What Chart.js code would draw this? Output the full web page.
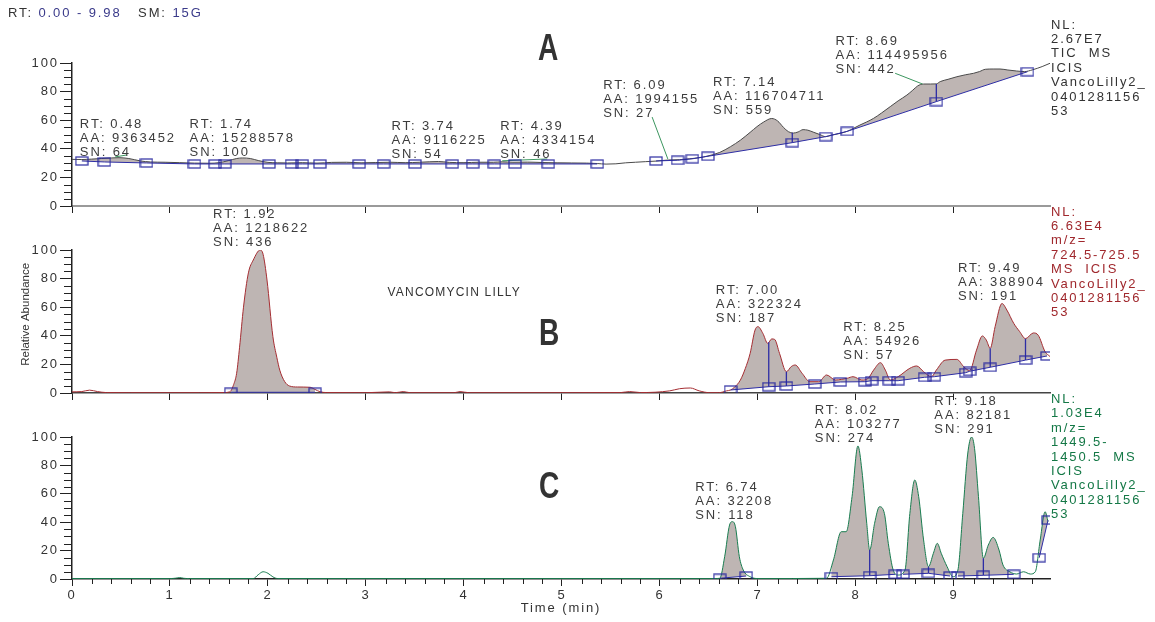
<!DOCTYPE html>
<html>
<head>
<meta charset="utf-8">
<script src="https://cdn.jsdelivr.net/npm/chart.js@4"></script>
<style>
  body { margin: 0; background: #fff; }
  #wrap { position: relative; width: 1155px; height: 622px; }
  #wrap canvas { position: absolute; left: 0; top: 0; }
</style>
</head>
<body>
<div id="wrap">
  <canvas id="chartA" width="1155" height="622"></canvas>
  <canvas id="chartB" width="1155" height="622"></canvas>
  <canvas id="chartC" width="1155" height="622"></canvas>
</div>
<script>
// time axis and abundance axis
const xTicks = [0, 1, 2, 3, 4, 5, 6, 7, 8, 9];
const yTicks = [0, 20, 40, 60, 80, 100];
const timeMax = 9.98;

// A: TIC trace [time, relative abundance]
const traceA = [
  [0, 32.6], [0.1, 32.5], [0.2, 32.8], [0.3, 33.2], [0.4, 33.6], [0.48, 33.8], [0.58, 33.2], [0.7, 31.5],
  [0.8, 30.8], [0.95, 30.6], [1.1, 30.3], [1.25, 30.0], [1.4, 29.9], [1.5, 30.3], [1.6, 31.8], [1.68, 33.2],
  [1.74, 33.6], [1.82, 33.2], [1.9, 31.8], [2.0, 30.5], [2.1, 30.2], [2.2, 30.1], [2.35, 30.3], [2.5, 30.0],
  [2.65, 30.5], [2.8, 30.6], [2.95, 30.2], [3.1, 30.4], [3.25, 30.6], [3.4, 30.3], [3.55, 30.6], [3.74, 31.1],
  [3.85, 30.5], [4.0, 30.3], [4.15, 30.6], [4.3, 30.6], [4.39, 30.9], [4.5, 30.6], [4.65, 30.7], [4.8, 30.4],
  [4.95, 30.2], [5.1, 30.1], [5.25, 30.0], [5.36, 29.7], [5.45, 29.3], [5.55, 29.5], [5.65, 30.2], [5.75, 30.6],
  [5.85, 31.0], [5.96, 31.4], [6.09, 32.2], [6.2, 32.4], [6.3, 33.0], [6.4, 33.8], [6.49, 35.0], [6.61, 37.5],
  [6.72, 41.5], [6.82, 46], [6.92, 51.5], [6.99, 55.5], [7.06, 58.8], [7.14, 61.2], [7.2, 59.5], [7.26, 55],
  [7.31, 52], [7.36, 51], [7.41, 51.8], [7.46, 53.4], [7.51, 53], [7.57, 51.5], [7.63, 50], [7.69, 48.5],
  [7.75, 49.5], [7.82, 50.5], [7.91, 52.2], [7.98, 54.5], [8.04, 56.6], [8.11, 58.8], [8.18, 61.3], [8.26, 65],
  [8.35, 69.5], [8.43, 73.5], [8.52, 77.6], [8.58, 81], [8.63, 84], [8.69, 85.3], [8.76, 85.3], [8.82, 85.4],
  [8.86, 87], [8.94, 88.6], [9.03, 90.4], [9.12, 91.8], [9.2, 92.8], [9.26, 94], [9.32, 95.6], [9.4, 95.8],
  [9.47, 95.8], [9.55, 95.1], [9.64, 94.4], [9.72, 94], [9.8, 95.2], [9.9, 97.5], [9.98, 99.8]
];
const baseA = [
  [0.10, 31.5], [0.33, 30.8], [0.76, 30.1], [1.25, 29.4], [1.46, 29.4], [1.56, 29.4], [2.01, 29.4],
  [2.24, 29.4], [2.35, 29.4], [2.53, 29.4], [2.93, 29.4], [3.18, 29.4], [3.50, 29.4], [3.88, 29.4],
  [4.09, 29.4], [4.31, 29.4], [4.52, 29.4], [4.86, 29.4], [5.36, 29.4], null,
  [5.96, 31.5], [6.18, 32.0], [6.33, 33.0], [6.49, 34.8], [7.35, 44.3], [7.69, 48.5], [7.91, 52.2],
  [8.82, 73.0], [9.75, 93.9]
];
const dropsA = [[7.35, 51.2], [7.35, 44.3], null, [8.82, 85.4], [8.82, 73.0]];
const leadersA = [
  [0.44, 34.3], [0.56, 35.7], null, [4.39, 31.6], [4.85, 32.9], null,
  [5.92, 62.2], [6.08, 32.9], null, [8.40, 92.8], [8.68, 85.3]
];
const peaksA = [
  { t: 0.08, v: 57.3, lines: ['RT: 0.48', 'AA: 9363452', 'SN: 64'] },
  { t: 1.20, v: 57.3, lines: ['RT: 1.74', 'AA: 15288578', 'SN: 100'] },
  { t: 3.26, v: 55.9, lines: ['RT: 3.74', 'AA: 9116225', 'SN: 54'] },
  { t: 4.37, v: 55.9, lines: ['RT: 4.39', 'AA: 4334154', 'SN: 46'] },
  { t: 5.42, v: 84.6, lines: ['RT: 6.09', 'AA: 1994155', 'SN: 27'] },
  { t: 6.54, v: 86.2, lines: ['RT: 7.14', 'AA: 116704711', 'SN: 559'] },
  { t: 7.79, v: 115.4, lines: ['RT: 8.69', 'AA: 114495956', 'SN: 442'] }
];
const sideA = ['NL:', '2.67E7', 'TIC  MS', 'ICIS', 'VancoLilly2_', '0401281156', '53'];

// B: m/z 724.5-725.5
const traceB = [
  [0, 0.8], [0.1, 1.0], [0.18, 2.0], [0.26, 1.0], [0.35, 0.3], [0.6, 0.2], [1.0, 0.2], [1.3, 0.2],
  [1.55, 0.3], [1.61, 0.8], [1.65, 6], [1.68, 13.8], [1.71, 32], [1.75, 60], [1.8, 84], [1.85, 93],
  [1.92, 100], [1.95, 97], [1.99, 79], [2.05, 39.4], [2.09, 25], [2.12, 16], [2.17, 8], [2.22, 4.9],
  [2.3, 4.2], [2.43, 4.0], [2.48, 2.5], [2.53, 0.9], [2.6, 0.3], [3.0, 0.2], [3.24, 0.8], [3.3, 0.2],
  [3.38, 1.0], [3.45, 0.2], [3.9, 0.2], [3.96, 1.0], [4.05, 0.2], [5.0, 0.2], [5.6, 0.3], [5.69, 1.0],
  [5.8, 0.3], [6.1, 1.5], [6.2, 3.0], [6.31, 3.5], [6.4, 1.5], [6.51, 0.2], [6.6, 0.2], [6.68, 1.5],
  [6.72, 2.1], [6.76, 4], [6.82, 9], [6.87, 17], [6.92, 27.7], [6.97, 44], [7.0, 46.4], [7.05, 41.7],
  [7.1, 34.7], [7.14, 37.8], [7.17, 37.5], [7.22, 27.7], [7.29, 14.9], [7.34, 18.5], [7.38, 19.6],
  [7.45, 13.8], [7.53, 7.9], [7.62, 7.9], [7.7, 12.6], [7.79, 9.1], [7.91, 10.3], [7.97, 11.4],
  [8.06, 9.1], [8.12, 10], [8.18, 16], [8.25, 21.2], [8.3, 16], [8.35, 9.1], [8.43, 11.4], [8.55, 17.3],
  [8.62, 18.9], [8.69, 14.9], [8.77, 11.4], [8.82, 16], [8.91, 23], [9.03, 23.5], [9.1, 18.4],
  [9.16, 15.6], [9.23, 30], [9.29, 39.9], [9.33, 37], [9.37, 31.3], [9.42, 46.4], [9.49, 62.6],
  [9.54, 58], [9.61, 48.7], [9.67, 43], [9.73, 38], [9.81, 42], [9.86, 40.4], [9.93, 28.9], [9.98, 25.5]
];
const baseB = [
  [1.62, 0.5], [2.48, 0.5], null,
  [6.72, 2.1], [7.11, 4.4], [7.29, 4.9], [7.58, 6.3], [7.84, 7.7], [8.09, 7.9], [8.16, 8.6], [8.34, 8.6],
  [8.43, 8.6], [8.70, 11.0], [8.80, 11.4], [9.12, 14.2], [9.16, 15.2], [9.37, 18.0], [9.73, 23.0], [9.95, 25.9]
];
const dropsB = [
  [7.11, 35.5], [7.11, 4.4], null, [7.29, 14.9], [7.29, 4.9], null,
  [9.37, 31.3], [9.37, 18.0], null, [9.73, 38], [9.73, 23.0]
];
const peaksB = [
  { t: 1.44, v: 125.2, lines: ['RT: 1.92', 'AA: 1218622', 'SN: 436'] },
  { t: 6.57, v: 71.5, lines: ['RT: 7.00', 'AA: 322324', 'SN: 187'] },
  { t: 7.87, v: 45.9, lines: ['RT: 8.25', 'AA: 54926', 'SN: 57'] },
  { t: 9.04, v: 87.2, lines: ['RT: 9.49', 'AA: 388904', 'SN: 191'] }
];
const sideB = ['NL:', '6.63E4', 'm/z=', '724.5-725.5', 'MS  ICIS', 'VancoLilly2_', '0401281156', '53'];

// C: m/z 1449.5-1450.5
const traceC = [
  [0, 0.3], [1.0, 0.3], [1.06, 0.6], [1.1, 1.0], [1.14, 0.5], [1.2, 0.3], [1.85, 0.3], [1.9, 3],
  [1.95, 5.1], [2.0, 4], [2.05, 1.5], [2.1, 0.3], [6.55, 0.3], [6.61, 0.5], [6.66, 15.7], [6.71, 38],
  [6.74, 40.4], [6.77, 36.8], [6.81, 15.7], [6.85, 6.3], [6.92, 1.6], [7.0, 0.3], [7.7, 0.5], [7.77, 13.4],
  [7.85, 33.3], [7.9, 33.3], [7.96, 58], [8.02, 93.7], [8.06, 76.8], [8.11, 39.2], [8.14, 20.4],
  [8.19, 39.2], [8.24, 50.9], [8.29, 46.2], [8.33, 25.1], [8.38, 6.3], [8.43, 2.8], [8.5, 6.3],
  [8.55, 46.2], [8.6, 69.7], [8.64, 58], [8.69, 27.5], [8.74, 8.7], [8.79, 18.1], [8.83, 25.1],
  [8.87, 18.1], [8.93, 8.7], [8.99, 1.6], [9.04, 6.3], [9.09, 46.2], [9.14, 88], [9.18, 100], [9.21, 92],
  [9.25, 58], [9.3, 14.6], [9.35, 23.9], [9.4, 29.3], [9.46, 20.4], [9.5, 9.9], [9.57, 5.1], [9.64, 3.5],
  [9.71, 5.1], [9.78, 3.5], [9.83, 5.1], [9.88, 27.5], [9.93, 47.4], [9.96, 40.4]
];
const baseC = [
  [6.61, 0.5], [6.88, 2.1], null,
  [7.75, 1.6], [8.14, 2.3], [8.40, 3.3], null,
  [8.48, 3.3], [8.74, 4.0], [8.96, 2.1], null,
  [9.04, 2.1], [9.30, 2.6], [9.61, 3.3], null,
  [9.87, 15.0], [9.96, 41.5]
];
const dropsC = [[8.14, 20.4], [8.14, 2.3], null, [8.74, 8.7], [8.74, 4.0], null, [9.30, 14.6], [9.30, 2.6]];
const peaksC = [
  { t: 6.36, v: 64.6, lines: ['RT: 6.74', 'AA: 32208', 'SN: 118'] },
  { t: 7.58, v: 119, lines: ['RT: 8.02', 'AA: 103277', 'SN: 274'] },
  { t: 8.80, v: 125.4, lines: ['RT: 9.18', 'AA: 82181', 'SN: 291'] }
];
const sideC = ['NL:', '1.03E4', 'm/z=', '1449.5-', '1450.5  MS', 'ICIS', 'VancoLilly2_', '0401281156', '53'];

const FONT = '"Liberation Sans", Arial, sans-serif';
const TEXT = '#3c3c3c';
const AXIS = '#222';
const FILL = 'rgb(190,181,179)';
const BLUE = 'rgb(45,45,165)';
const LEAD = 'rgb(60,150,95)';

// open box used for the baseline points
function boxMarker() {
  const c = document.createElement('canvas');
  c.width = 14;
  c.height = 10;
  const g = c.getContext('2d');
  g.strokeStyle = 'rgba(40,40,160,0.9)';
  g.lineWidth = 1.3;
  g.strokeRect(1, 1, 12, 8);
  return c;
}
const marker = boxMarker();

const toXY = pairs => {
  let lastX = 0;
  return pairs.map(p => {
    if (p === null) return { x: lastX, y: null };
    lastX = p[0];
    return { x: p[0], y: p[1] };
  });
};

function text(ctx, str, x, y, font, color, align, spacing) {
  ctx.save();
  ctx.font = font;
  ctx.fillStyle = color;
  ctx.textAlign = align || 'left';
  ctx.textBaseline = 'middle';
  ctx.letterSpacing = spacing || '1.9px';
  ctx.fillText(str, x, y);
  ctx.restore();
}

// big condensed panel letter
function letter(ctx, str, x, y) {
  ctx.save();
  ctx.translate(x, y);
  ctx.scale(0.76, 1);
  text(ctx, str, 0, 0, 'bold 37px ' + FONT, '#333', 'center', '0px');
  ctx.restore();
}

function panelPlugin(p) {
  return {
    id: 'panel' + p.name,
    beforeDraw(chart) {
      chart.ctx.letterSpacing = '1.9px';
    },
    afterDraw(chart) {
      const ctx = chart.ctx;
      const xs = chart.scales.x;
      const ys = chart.scales.y;
      ctx.save();
      ctx.strokeStyle = AXIS;
      ctx.lineWidth = 1;
      // minor ticks every 5 %
      for (let v = 5; v < 100; v += 5) {
        if (v % 20 === 0) continue;
        const y = Math.round(ys.getPixelForValue(v)) + 0.5;
        ctx.beginPath();
        ctx.moveTo(xs.left - 8, y);
        ctx.lineTo(xs.left, y);
        ctx.stroke();
      }
      // minor ticks every 0.2 min
      if (p.timeAxis) {
        for (let i = 1; i * 0.2 < timeMax; i++) {
          if (i % 5 === 0) continue;
          const x = Math.round(xs.getPixelForValue(i * 0.2)) + 0.5;
          ctx.beginPath();
          ctx.moveTo(x, ys.bottom);
          ctx.lineTo(x, ys.bottom + 5);
          ctx.stroke();
        }
      }
      ctx.restore();

      const f = '13px ' + FONT;
      p.peaks.forEach(pk => {
        const x = xs.getPixelForValue(pk.t);
        const y = ys.getPixelForValue(pk.v);
        pk.lines.forEach((s, i) => text(ctx, s, x, y + i * 14, f, TEXT));
      });
      const sx = xs.getPixelForValue(timeMax) + 1;
      const sy = ys.getPixelForValue(126.5);
      p.side.forEach((s, i) => text(ctx, s, sx, sy + i * 14.4, f, p.sideColor));

      letter(ctx, p.name, xs.getPixelForValue(p.letter[0]), ys.getPixelForValue(p.letter[1]));

      if (p.extra) p.extra(ctx, xs, ys);
    }
  };
}

function makePanel(id, p) {
  return new Chart(document.getElementById(id), {
    type: 'line',
    data: {
      datasets: [
        { data: toXY(p.trace), borderColor: p.color, borderWidth: 1, backgroundColor: FILL,
          fill: { target: 1 }, pointRadius: 0, cubicInterpolationMode: 'monotone', order: 4 },
        { data: toXY(p.base), borderColor: BLUE, borderWidth: 1, pointStyle: marker, pointRadius: 6,
          fill: false, order: 1 },
        { data: toXY(p.drops), borderColor: BLUE, borderWidth: 1.3, pointRadius: 0, fill: false, order: 2 },
        { data: toXY(p.leaders || []), borderColor: LEAD, borderWidth: 1, pointRadius: 0, fill: false, order: 3 }
      ]
    },
    options: {
      responsive: false,
      animation: false,
      events: [],
      devicePixelRatio: 1,
      layout: { padding: { top: p.top, bottom: p.bottom, left: 0, right: 105 } },
      plugins: { legend: { display: false }, tooltip: { enabled: false } },
      scales: {
        x: {
          type: 'linear', min: 0, max: timeMax,
          afterBuildTicks: s => { s.ticks = xTicks.map(v => ({ value: v })); },
          afterFit: s => { s.height = p.timeAxis ? 43 : 0; },
          ticks: { display: p.timeAxis, autoSkip: false, maxRotation: 0, padding: 2,
                   color: '#333', font: { family: FONT, size: 13 } },
          grid: { display: p.timeAxis, drawOnChartArea: false, tickLength: 7, color: AXIS },
          border: { color: p.axisColor, width: p.axisWidth },
          title: { display: p.timeAxis, text: 'Time (min)', color: '#333',
                   font: { family: FONT, size: 13 }, padding: { top: 0, bottom: 6 } }
        },
        y: {
          min: 0, max: 100,
          afterBuildTicks: s => { s.ticks = yTicks.map(v => ({ value: v })); },
          afterFit: s => { s.width = 72; },
          ticks: { padding: 1, color: '#333', font: { family: FONT, size: 13 } },
          grid: { drawOnChartArea: false, tickLength: 12, color: AXIS },
          border: { color: AXIS, width: 1.5 }
        }
      }
    },
    plugins: [panelPlugin(p)]
  });
}

makePanel('chartA', {
  name: 'A', trace: traceA, base: baseA, drops: dropsA, leaders: leadersA, peaks: peaksA,
  side: sideA, sideColor: '#333', color: '#4a4a4a', top: 63, bottom: 416,
  axisColor: '#9a9a9a', axisWidth: 2, letter: [4.86, 109],
  extra: (ctx) => {
    const f = '13px ' + FONT;
    ctx.save();
    ctx.font = f;
    ctx.letterSpacing = '1.9px';
    let x = 8;
    [['RT: ', '#333'], ['0.00 - 9.98', '#3a3a8a'], ['   SM: ', '#333'], ['15G', '#3a3a8a']].forEach(([s, c]) => {
      text(ctx, s, x, 13, f, c);
      x += ctx.measureText(s).width;
    });
    ctx.restore();
  }
});

makePanel('chartB', {
  name: 'B', trace: traceB, base: baseB, drops: dropsB, leaders: [], peaks: peaksB,
  side: sideB, sideColor: 'rgb(160,40,45)', color: 'rgb(165,45,50)', top: 250, bottom: 229,
  axisColor: '#444', axisWidth: 1.5, letter: [4.87, 40.6],
  extra: (ctx, xs, ys) => {
    text(ctx, 'VANCOMYCIN LILLY', xs.getPixelForValue(3.22), ys.getPixelForValue(70),
      '12px ' + FONT, '#333', 'left', '1.2px');
    ctx.save();
    ctx.translate(26, ys.getPixelForValue(55));
    ctx.rotate(-Math.PI / 2);
    text(ctx, 'Relative Abundance', 0, 0, '11.5px ' + FONT, '#333', 'center', '0px');
    ctx.restore();
  }
});

makePanel('chartC', {
  name: 'C', trace: traceC, base: baseC, drops: dropsC, leaders: [], peaks: peaksC,
  side: sideC, sideColor: 'rgb(20,120,70)', color: 'rgb(25,125,80)', top: 437, bottom: 0,
  axisColor: AXIS, axisWidth: 1.5, letter: [4.87, 64], timeAxis: true
});
</script>
</body>
</html>
